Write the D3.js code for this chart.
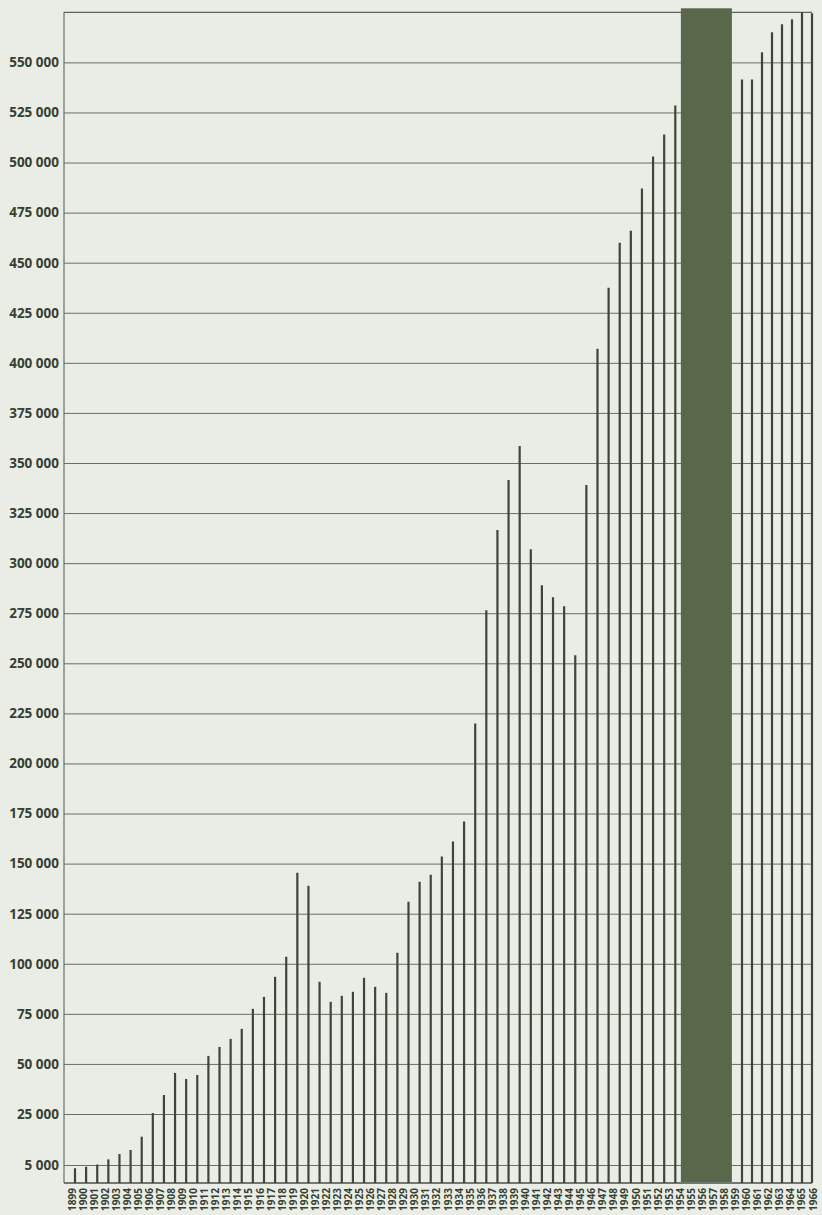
<!DOCTYPE html>
<html>
<head>
<meta charset="utf-8">
<script src="https://cdn.jsdelivr.net/npm/d3@7"></script>
<style>
  html, body { margin: 0; padding: 0; background: #eaede5; }
  svg { display: block; }
  .ylab text { font-family: "Open Sans", sans-serif; font-weight: 700; font-size: 13.5px; fill: #363f33; }
  .xlab { font-family: "Open Sans", sans-serif; font-weight: 700; font-size: 10px; fill: #363f33; }
</style>
</head>
<body>
<svg width="822" height="1215"></svg>
<script>
// years on the x axis
const years = d3.range(1899, 1967)

// years with no figures, covered by the dark block
const gapYears = [1954, 1955, 1956, 1957, 1958]

// one value per year (null = no bar)
const values = [
  4100, 4500, 5200, 7200, 9300, 10900, 16100, 25500, 34500, 45500,      // 1899-1908
  42500, 44500, 54000, 58500, 62500, 67500, 77500, 83500, 93500, 103500, // 1909-1918
  145500, 139000, 91000, 81000, 84000, 86000, 93000, 88500, 85500, 105500, // 1919-1928
  131000, 141000, 144500, 153500, 161000, 171000, 220000, 276500, 316500, 341500, // 1929-1938
  358500, 307000, 289000, 283000, 278500, 254000, 339000, 407000, 437500, 460000, // 1939-1948
  466000, 487000, 503000, 514000, 528500,                                 // 1949-1953
  null, null, null, null, null,                                          // 1954-1958
  541500, 541500, 555000, 565000, 569000, 571500, 575000, 574500          // 1959-1966
]

// gridline / tick values on the left
const yTicks = [5000, 25000, 50000, 75000, 100000, 125000, 150000, 175000, 200000,
  225000, 250000, 275000, 300000, 325000, 350000, 375000, 400000, 425000, 450000,
  475000, 500000, 525000, 550000]

const yTop = 575000

const data = years.map((y, i) => ({ year: y, value: values[i] }))

const svg = d3.select('svg')
const left = 64, right = 812

// the drawing's scale is stretched at the bottom (5 000 sits one step below 25 000)
const yScale = d3.scaleLinear()
  .domain([0, 5000, 25000, yTop])
  .range([1183, 1165, 1114, 12.3])

// bars are evenly spaced until 1959, then a bit tighter
const xBar = d3.scaleLinear()
  .domain([1899, 1959, 1966])
  .range([75, 742, 812])

// year labels are evenly spaced
const xLab = d3.scalePoint()
  .domain(years)
  .range([72, 813])

const spaceFormat = d3.formatLocale({ decimal: ',', thousands: ' ', grouping: [3], currency: ['', ''] }).format(',')

// gridlines + labels
const yAxis = svg.append('g')
  .attr('class', 'ylab')
  .attr('transform', `translate(${left},0)`)
  .call(d3.axisLeft(yScale)
    .tickValues(yTicks)
    .tickSize(-(right - left))
    .tickPadding(5)
    .tickFormat(spaceFormat))
yAxis.select('.domain').remove()
yAxis.selectAll('.tick line').attr('stroke', '#6a6e64').attr('stroke-width', 1)

// frame: left axis, top line and baseline
svg.append('line')
  .attr('x1', left).attr('x2', left)
  .attr('y1', yScale(yTop)).attr('y2', yScale(0))
  .attr('stroke', '#6a6e64').attr('stroke-width', 1.2)
svg.append('line')
  .attr('x1', left).attr('x2', right)
  .attr('y1', yScale(yTop)).attr('y2', yScale(yTop))
  .attr('stroke', '#5f635a').attr('stroke-width', 1.2)
svg.append('line')
  .attr('x1', left).attr('x2', right)
  .attr('y1', yScale(0)).attr('y2', yScale(0))
  .attr('stroke', '#4a5046').attr('stroke-width', 1.5)

// bars
svg.append('g')
  .selectAll('line')
  .data(data.filter(d => d.value != null))
  .join('line')
    .attr('x1', d => xBar(d.year)).attr('x2', d => xBar(d.year))
    .attr('y1', yScale(0))
    .attr('y2', d => yScale(d.value))
    .attr('stroke', '#3b4739')
    .attr('stroke-width', 2.2)

// dark block over the missing years
const gx0 = (xBar(gapYears[0] - 1) + xBar(gapYears[0])) / 2
const gx1 = xBar(gapYears[gapYears.length - 1]) + 1
svg.append('rect')
  .attr('x', gx0)
  .attr('y', yScale(yTop) - 4)
  .attr('width', gx1 - gx0)
  .attr('height', yScale(0) - 1 - (yScale(yTop) - 4))
  .attr('fill', '#59684b')

// year labels
svg.append('g')
  .selectAll('text')
  .data(years)
  .join('text')
    .attr('class', 'xlab')
    .attr('transform', d => `translate(${xLab(d)},1188) rotate(-90)`)
    .attr('dy', '0.35em')
    .attr('text-anchor', 'end')
    .text(d => d)
</script>
</body>
</html>
